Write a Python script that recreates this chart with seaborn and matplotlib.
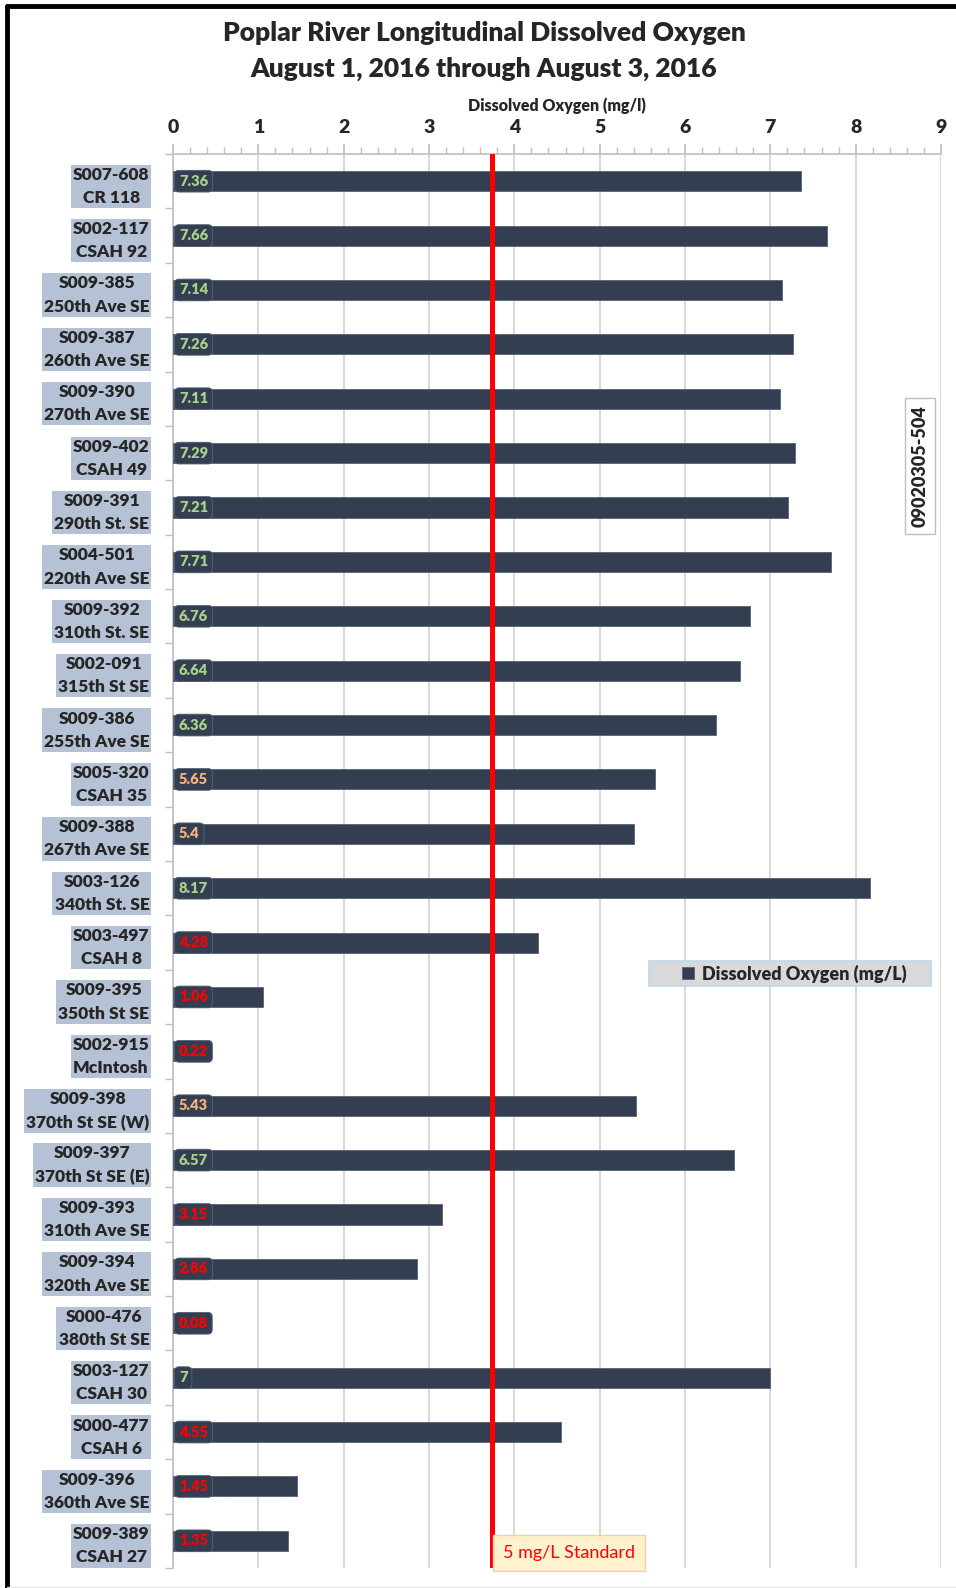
import matplotlib
matplotlib.use("Agg")
import matplotlib.pyplot as plt
from matplotlib.lines import Line2D
from matplotlib.patches import Rectangle
import seaborn as sns
import pandas as pd

# Monitoring sites (station id + road), upstream to downstream order as listed
station_ids = ["S007-608", "S002-117", "S009-385", "S009-387", "S009-390", "S009-402",
               "S009-391", "S004-501", "S009-392", "S002-091", "S009-386", "S005-320",
               "S009-388", "S003-126", "S003-497", "S009-395", "S002-915", "S009-398",
               "S009-397", "S009-393", "S009-394", "S000-476", "S003-127", "S000-477",
               "S009-396", "S009-389"]
roads = ["CR 118", "CSAH 92", "250th Ave SE", "260th Ave SE", "270th Ave SE", "CSAH 49",
         "290th St. SE", "220th Ave SE", "310th St. SE", "315th St SE", "255th Ave SE", "CSAH 35",
         "267th Ave SE", "340th St. SE", "CSAH 8", "350th St SE", "McIntosh", "370th St SE (W)",
         "370th St SE (E)", "310th Ave SE", "320th Ave SE", "380th St SE", "CSAH 30", "CSAH 6",
         "360th Ave SE", "CSAH 27"]
do_values = [7.36, 7.66, 7.14, 7.26, 7.11, 7.29, 7.21, 7.71, 6.76, 6.64, 6.36, 5.65, 5.4,
             8.17, 4.28, 1.06, 0.22, 5.43, 6.57, 3.15, 2.86, 0.08, 7, 4.55, 1.45, 1.35]
x_ticks = [0, 1, 2, 3, 4, 5, 6, 7, 8, 9]
standard_line = 3.74

BAR = "#333f50"
FONT = ["Lato", "DejaVu Sans"]
W = "heavy"

sns.set_theme(style="white")
plt.rcParams["font.family"] = FONT

labels = [f"{s}\n{r}" for s, r in zip(station_ids, roads)]
df = pd.DataFrame({"site": labels, "do": do_values})

fig = plt.figure(figsize=(9.56, 15.88), dpi=100)
ax = fig.add_axes([173 / 956, 1 - 1568 / 1588, (941 - 173) / 956, (1568 - 154) / 1588])

sns.barplot(data=df, x="do", y="site", orient="h", color=BAR, width=0.37,
            saturation=1, ax=ax, label="Dissolved Oxygen (mg/L)", edgecolor="#56627a",
            linewidth=0.6, zorder=3)

ax.set_xlim(0, 9)
ax.set_ylim(len(labels) - 0.5, -0.5)

# x axis on top with minor ticks every 0.2
ax.xaxis.tick_top()
ax.xaxis.set_label_position("top")
ax.set_xticks(x_ticks)
ax.set_xticklabels([str(t) for t in x_ticks], fontsize=14, fontweight=W)
ax.set_xticks([i * 0.2 for i in range(46)], minor=True)
ax.tick_params(axis="x", which="major", direction="out", length=7, color="#bfbfbf",
               width=1.2, pad=6, top=True)
ax.tick_params(axis="x", which="minor", direction="out", length=5, color="#bfbfbf",
               width=1, top=True)
ax.set_xlabel("Dissolved Oxygen (mg/l)", fontsize=11.5, fontweight=W, labelpad=6)
ax.grid(axis="x", color="#d9d9d9", linewidth=1.5, zorder=0)
ax.set_axisbelow(True)

# y axis labels boxed, ticks at category boundaries
ax.set_ylabel("")
ax.set_yticks(range(len(labels)))
ax.set_yticklabels(labels, fontsize=12.5, fontweight=W, multialignment="center",
                   linespacing=1.55)
ax.set_yticks([i + 0.5 for i in range(-1, len(labels))], minor=True)
ax.tick_params(axis="y", which="major", length=0, pad=17)
ax.tick_params(axis="y", which="minor", direction="out", length=6, color="#bfbfbf",
               width=1, left=True)
for t in ax.get_yticklabels():
    t.set_bbox(dict(facecolor="#b5c1d4", edgecolor="none", pad=1.5))

for side in ["bottom", "right"]:
    ax.spines[side].set_visible(False)
for side in ["top", "left"]:
    ax.spines[side].set_color("#bfbfbf")
    ax.spines[side].set_linewidth(1.2)

# value labels at the left end of each bar
def value_color(v):
    if v >= 6:
        return "#a9d18e"
    if v >= 5:
        return "#f4b183"
    return "#ff0000"

for i, v in enumerate(do_values):
    txt = f"{v:g}"
    ax.text(0.07, i, txt, color=value_color(v), fontsize=10.5, fontweight=W,
            va="center", ha="left", zorder=5,
            bbox=dict(boxstyle="round,pad=0.3,rounding_size=0.3", facecolor=BAR,
                      edgecolor="#56627a", linewidth=0.6))

# dissolved oxygen standard
ax.axvline(standard_line, color="#ff0000", linewidth=3.6, zorder=6)
ax.text(standard_line + 0.13, len(labels) - 0.78, "5 mg/L Standard", color="#ff0000",
        fontsize=13, va="center", ha="left", zorder=7,
        bbox=dict(facecolor="#fff2cc", edgecolor="#f8cbad", pad=7))

# HUC identifier
fig.text(920 / 956, 1 - 466 / 1588, "09020305-504", rotation=90, fontsize=13,
         fontweight=W, ha="center", va="center",
         bbox=dict(facecolor="white", edgecolor="#bfbfbf", pad=5))

# legend on a grey panel
panel = Rectangle((649 / 956, 1 - 986 / 1588), (931 - 649) / 956, 25 / 1588,
                  transform=fig.transFigure, facecolor="#d9d9d9",
                  edgecolor="#bdd7ee", linewidth=1.2, zorder=8, clip_on=False)
ax.add_patch(panel)
leg = ax.legend(loc="center", bbox_to_anchor=(794 / 956, 1 - 973.5 / 1588),
                bbox_transform=fig.transFigure, frameon=False,
                handlelength=0.7, handleheight=0.7, handletextpad=0.4,
                prop=dict(family=FONT, weight=W, size=13),
                borderpad=0.2, borderaxespad=0)
leg.set_zorder(9)

# title
fig.text(484 / 956, 1 - 33 / 1588, "Poplar River Longitudinal Dissolved Oxygen",
         ha="center", va="center", fontsize=19, fontweight=W)
fig.text(484 / 956, 1 - 69 / 1588, "August 1, 2016 through August 3, 2016",
         ha="center", va="center", fontsize=19, fontweight=W)

# outer frame
fig.add_artist(Line2D([7 / 956, 1], [1 - 6 / 1588, 1 - 6 / 1588], color="black", linewidth=3.5,
                      transform=fig.transFigure))
fig.add_artist(Line2D([7 / 956, 7 / 956], [0, 1 - 6 / 1588], color="black", linewidth=3.5,
                      transform=fig.transFigure))
fig.add_artist(Line2D([7 / 956, 1], [1.5 / 1588, 1.5 / 1588], color="#e6e6e6", linewidth=1,
                      transform=fig.transFigure))

fig.savefig("out.png", dpi=100)
